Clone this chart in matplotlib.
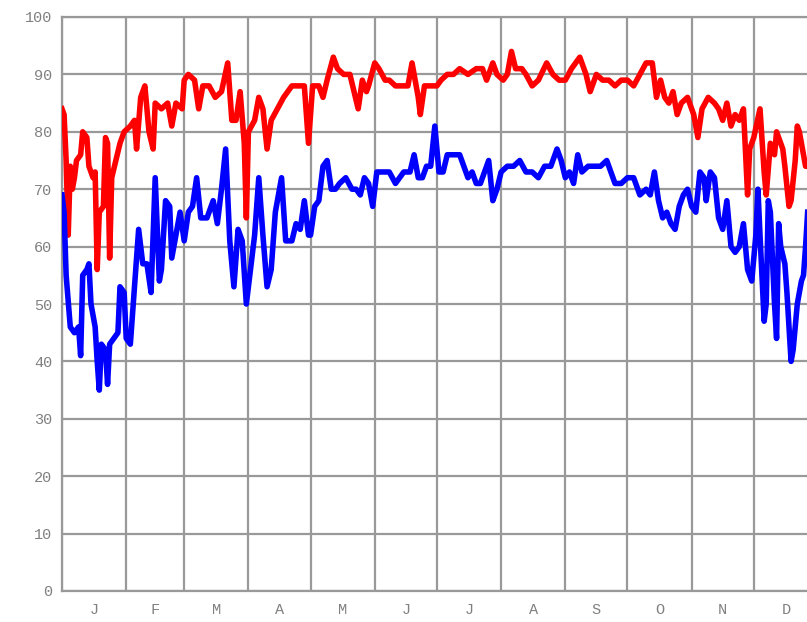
import matplotlib
matplotlib.use("Agg")
import matplotlib.pyplot as plt

# daily high / low temperatures (day of year, degrees)
high_days = [0, 1, 2, 3, 4, 5, 6, 7, 9, 10, 12, 13, 15, 16, 17, 18, 20, 21, 22, 23,
             24, 26, 28, 30, 33, 35, 36, 38, 40, 42, 44, 45, 48, 51, 53, 55, 58, 59, 61, 64,
             66, 68, 71, 74, 77, 80, 82, 84, 86, 88, 89, 90, 93, 95, 97, 99, 101, 104, 107, 109,
             111, 114, 117, 119, 121, 124, 126, 128, 131, 133, 136, 139, 141, 143, 145, 147, 148, 151, 153, 156,
             158, 161, 164, 167, 169, 172, 173, 175, 178, 181, 183, 186, 189, 192, 196, 200, 203, 205, 208, 210,
             213, 215, 217, 219, 222, 224, 227, 230, 234, 237, 240, 243, 246, 250, 253, 255, 258, 261, 264, 267,
             270, 273, 276, 279, 282, 285, 287, 289, 291, 293, 295, 297, 299, 302, 305, 307, 309, 312, 315, 317,
             319, 321, 323, 325, 327, 329, 331, 332, 334, 337, 339, 340, 342, 344, 345, 346, 348, 349, 351, 352,
             354, 355, 356, 358, 359, 360]
high_temps = [84, 83, 75, 62, 74, 70, 72, 75, 76, 80, 79, 74, 72, 73, 56, 66, 67, 79, 78, 58,
              72, 75, 78, 80, 81, 82, 77, 86, 88, 80, 77, 85, 84, 85, 81, 85, 84, 89, 90, 89,
              84, 88, 88, 86, 87, 92, 82, 82, 87, 78, 65, 80, 82, 86, 84, 77, 82, 84, 86, 87,
              88, 88, 88, 78, 88, 88, 86, 89, 93, 91, 90, 90, 87, 84, 89, 87, 88, 92, 91, 89,
              89, 88, 88, 88, 92, 86, 83, 88, 88, 88, 89, 90, 90, 91, 90, 91, 91, 89, 92, 90,
              89, 90, 94, 91, 91, 90, 88, 89, 92, 90, 89, 89, 91, 93, 90, 87, 90, 89, 89, 88,
              89, 89, 88, 90, 92, 92, 86, 89, 86, 85, 87, 83, 85, 86, 83, 79, 84, 86, 85, 84,
              82, 85, 81, 83, 82, 84, 69, 77, 79, 84, 73, 69, 78, 76, 80, 79, 77, 74, 67, 68,
              75, 81, 80, 76, 74, 74]

low_days = [0, 1, 2, 4, 6, 8, 9, 10, 12, 13, 14, 16, 17, 18, 19, 21, 22, 23, 25, 27,
            28, 30, 31, 33, 35, 37, 39, 41, 43, 45, 47, 48, 50, 52, 53, 55, 57, 59, 61, 63,
            65, 67, 70, 73, 75, 77, 79, 81, 83, 85, 87, 89, 91, 93, 95, 97, 99, 101, 103, 106,
            108, 111, 113, 115, 117, 119, 120, 122, 124, 126, 128, 130, 132, 134, 137, 140, 142, 144, 146, 148,
            150, 152, 155, 158, 161, 163, 165, 168, 170, 172, 174, 176, 178, 180, 182, 184, 186, 189, 192, 194,
            196, 198, 200, 202, 204, 206, 208, 210, 212, 215, 218, 221, 224, 227, 230, 233, 236, 239, 241, 243,
            245, 247, 249, 251, 254, 257, 260, 263, 265, 267, 270, 273, 276, 279, 282, 284, 286, 288, 290, 292,
            294, 296, 298, 300, 302, 304, 306, 308, 310, 311, 313, 315, 317, 319, 321, 323, 325, 327, 329, 331,
            333, 335, 336, 337, 339, 340, 341, 342, 344, 345, 346, 347, 349, 350, 352, 353, 355, 357, 358, 359,
            360]
low_temps = [69, 66, 55, 46, 45, 46, 41, 55, 56, 57, 50, 46, 40, 35, 43, 42, 36, 43, 44, 45,
             53, 52, 44, 43, 53, 63, 57, 57, 52, 72, 54, 56, 68, 67, 58, 62, 66, 61, 66, 67,
             72, 65, 65, 68, 64, 70, 77, 61, 53, 63, 61, 50, 56, 62, 72, 62, 53, 56, 66, 72,
             61, 61, 64, 63, 68, 62, 62, 67, 68, 74, 75, 70, 70, 71, 72, 70, 70, 69, 72, 71,
             67, 73, 73, 73, 71, 72, 73, 73, 76, 72, 72, 74, 74, 81, 73, 73, 76, 76, 76, 74,
             72, 73, 71, 71, 73, 75, 68, 70, 73, 74, 74, 75, 73, 73, 72, 74, 74, 77, 75, 72,
             73, 71, 76, 73, 74, 74, 74, 75, 73, 71, 71, 72, 72, 69, 70, 69, 73, 68, 65, 66,
             64, 63, 67, 69, 70, 67, 66, 73, 72, 68, 73, 72, 65, 63, 68, 60, 59, 60, 64, 56,
             54, 62, 70, 62, 47, 50, 68, 66, 50, 44, 64, 60, 57, 52, 40, 42, 50, 54, 55, 60,
             66]

month_starts = [0, 31, 59, 90, 120, 151, 181, 212, 243, 273, 304, 334, 365]
month_labels = ["J", "F", "M", "A", "M", "J", "J", "A", "S", "O", "N", "D"]

grey = "#999999"
text_grey = "#808080"

fig = plt.figure(figsize=(8.07, 6.22), dpi=100)
# the plot runs a little past the right edge of the image, like the original
ax = fig.add_axes([62 / 807, 31 / 622, (818 - 62) / 807, (591 - 17) / 622])

ax.plot(high_days, high_temps, color="#ff0000", linewidth=4.0, zorder=3)
ax.plot(low_days, low_temps, color="#0000ff", linewidth=4.0, zorder=3)

ax.set_xlim(0, 365)
ax.set_ylim(0, 100)

ax.set_xticks(month_starts)
ax.set_xticklabels([])
centers = [(month_starts[i] + month_starts[i + 1]) / 2 for i in range(12)]
ax.set_xticks(centers, minor=True)
ax.set_xticklabels(month_labels, minor=True)
ax.set_yticks(range(0, 101, 10))

ax.grid(True, which="major", color=grey, linewidth=1.6, zorder=1)
ax.set_axisbelow(True)
ax.tick_params(which="both", length=0, colors=text_grey, labelsize=11)
ax.tick_params(axis="x", which="minor", pad=9)
ax.tick_params(axis="y", pad=7)
for lab in ax.get_xticklabels(minor=True) + ax.get_yticklabels():
    lab.set_family("Liberation Mono")

for side in ["left", "bottom", "top", "right"]:
    ax.spines[side].set_color(grey)
    ax.spines[side].set_linewidth(1.6)

fig.savefig("out.png", dpi=100)
